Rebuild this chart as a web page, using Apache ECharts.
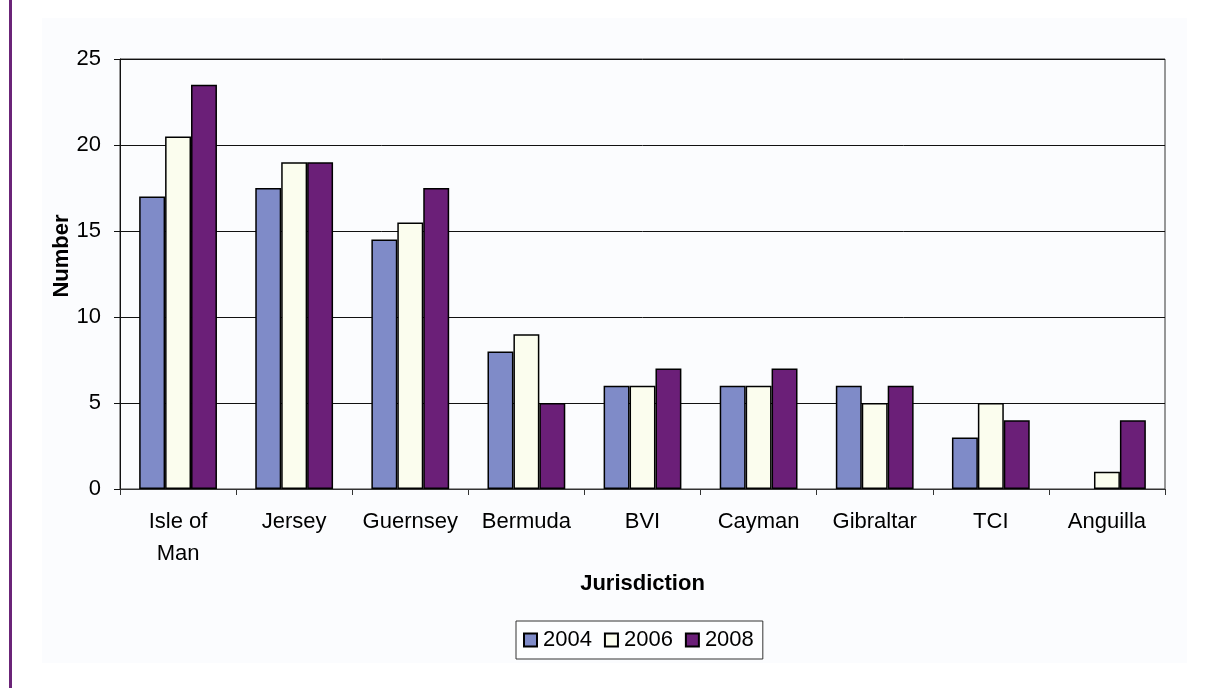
<!DOCTYPE html>
<html>
<head>
<meta charset="utf-8">
<script src="https://cdn.jsdelivr.net/npm/echarts@6/dist/echarts.min.js"></script>
<style>
html,body{margin:0;padding:0;background:#ffffff;}
#chart{width:1208px;height:688px;}
</style>
</head>
<body>
<div id="chart"></div>
<script>
const categories = ['Isle of\nMan', 'Jersey', 'Guernsey', 'Bermuda', 'BVI', 'Cayman', 'Gibraltar', 'TCI', 'Anguilla'];
const seriesNames = ['2004', '2006', '2008'];
const values2004 = [17, 17.5, 14.5, 8, 6, 6, 6, 3, 0];
const values2006 = [20.5, 19, 15.5, 9, 6, 6, 5, 5, 1];
const values2008 = [23.5, 19, 17.5, 5, 7, 7, 6, 4, 4];
const yTicks = {min: 0, max: 25, interval: 5};

const colors = ['#7F8BC8', '#FBFDEE', '#6B1F78'];
const allValues = [values2004, values2006, values2008];

const chart = echarts.init(document.getElementById('chart'), null, {renderer: 'canvas'});
const font = 'Liberation Sans, Arial, sans-serif';
const fs = 22;

chart.setOption({
  animation: false,
  backgroundColor: '#ffffff',
  textStyle: {fontFamily: font},
  graphic: [
    {type: 'rect', z: -10, shape: {x: 42, y: 18, width: 1145, height: 645}, style: {fill: '#FBFCFE'}},
    {type: 'rect', z: 10, shape: {x: 9, y: 0, width: 3, height: 688}, style: {fill: '#6B2478'}}
  ],
  grid: {left: 120, top: 59, right: 43, bottom: 199, show: true, borderColor: '#333', borderWidth: 1, backgroundColor: 'transparent'},
  legend: {
    bottom: 29,
    left: 516,
    data: seriesNames,
    icon: 'rect',
    itemWidth: 13,
    itemHeight: 13,
    itemGap: 12,
    padding: [8, 9, 8, 7],
    borderColor: '#333',
    borderWidth: 1,
    backgroundColor: '#FDFEFF',
    textStyle: {fontSize: fs, color: '#000', fontFamily: font, padding: [0, 0, 0, 1]}
  },
  xAxis: {
    type: 'category',
    data: categories,
    name: 'Jurisdiction',
    nameLocation: 'middle',
    nameGap: 84,
    nameMoveOverlap: false,
    nameTextStyle: {fontSize: fs, fontWeight: 'bold', color: '#000', fontFamily: font},
    axisLine: {lineStyle: {color: '#333', width: 1}},
    axisTick: {show: true, length: 6, lineStyle: {color: '#333'}},
    axisLabel: {fontSize: fs, color: '#000', margin: 17, lineHeight: 32, interval: 0, fontFamily: font}
  },
  yAxis: {
    type: 'value',
    min: yTicks.min,
    max: yTicks.max,
    interval: yTicks.interval,
    name: 'Number',
    nameLocation: 'middle',
    nameGap: 47,
    nameMoveOverlap: false,
    nameRotate: 90,
    nameTextStyle: {fontSize: fs, fontWeight: 'bold', color: '#000', fontFamily: font, padding: [0, 0, 0, 36]},
    axisLine: {show: true, lineStyle: {color: '#111', width: 1}},
    axisTick: {show: true, length: 6, lineStyle: {color: '#111'}},
    axisLabel: {fontSize: fs, color: '#000', margin: 19, fontFamily: font},
    splitLine: {show: true, lineStyle: {color: '#111', width: 1}}
  },
  series: seriesNames.map((n, i) => ({
    name: n,
    type: 'bar',
    data: allValues[i].map(v => v === 0 ? {value: v, itemStyle: {borderWidth: 0}} : v),
    barGap: '0%',
    barCategoryGap: '33%',
    itemStyle: {color: colors[i], borderColor: '#000', borderWidth: 1.5}
  }))
});
</script>
</body>
</html>
